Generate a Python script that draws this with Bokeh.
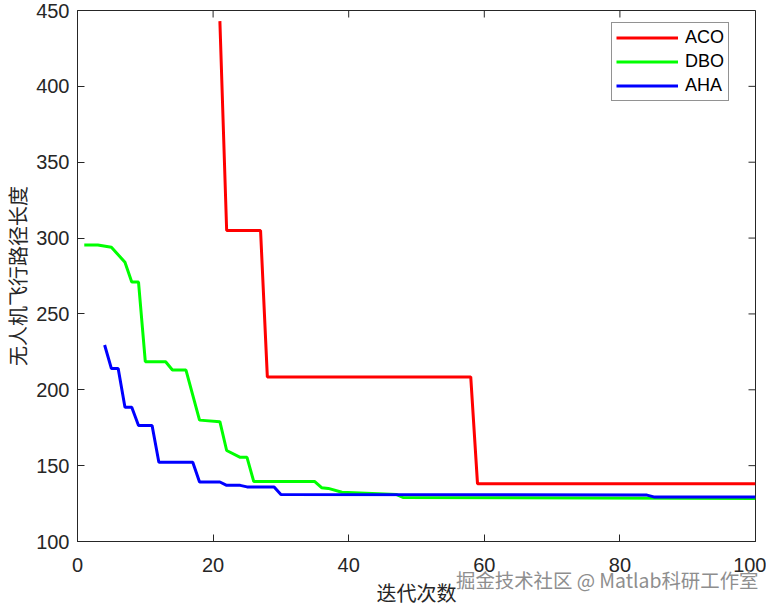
import math
from bokeh.plotting import figure
from bokeh.models import Legend, LegendItem, FixedTicker, Range1d, Div
from bokeh.layouts import column
from bokeh.embed import file_html
from bokeh.resources import INLINE

# ---- data ----
aco_x = [21, 22, 27, 28, 58, 59, 100]
aco_y = [443, 305, 305, 208.5, 208.5, 138, 138]

dbo_x = [1, 3, 5, 7, 8, 9, 10, 13, 14, 16, 18, 21, 22, 24, 25, 26, 35, 36, 37, 39, 47, 48, 100]
dbo_y = [295.5, 295.5, 294, 284, 271, 271, 218.5, 218.5, 213, 213, 180, 179, 160, 155.5, 155.5,
         139.5, 139.5, 135.5, 135, 132.5, 131, 129, 128.3]

aha_x = [4, 5, 6, 7, 8, 9, 11, 12, 17, 18, 21, 22, 24, 25, 29, 30, 84, 85, 100]
aha_y = [229.5, 214, 214, 188.5, 188.5, 176.5, 176.5, 152.3, 152.3, 139.2, 139.2, 137, 137, 136, 136,
         131, 130.6, 129.4, 129.4]

series_names = ["ACO", "DBO", "AHA"]
series_colors = ["#ff0000", "#00ff00", "#0000ff"]
x_lim = (0, 100)
y_lim = (100, 450)
x_ticks = [0, 20, 40, 60, 80, 100]
y_ticks = [100, 150, 200, 250, 300, 350, 400, 450]
x_title = "迭代次数"
y_title = "无人机飞行路径长度"
watermark = "掘金技术社区 @ Matlab科研工作室"

AXC = "#262626"
TICKFONT = "Liberation Sans"
CJK = "Noto Sans CJK SC"
TICKLEN = 7

p = figure(frame_width=678, frame_height=531,
           x_range=Range1d(*x_lim), y_range=Range1d(*y_lim),
           output_backend="svg", toolbar_location=None,
           min_border_left=69, min_border_right=11, min_border_top=10, min_border_bottom=50,
           background_fill_color="white", border_fill_color="white")
p.outline_line_color = AXC
p.outline_line_width = 1
p.xgrid.visible = False
p.ygrid.visible = False

xa = p.xaxis[0]
ya = p.yaxis[0]
for ax, ticks in ((xa, x_ticks), (ya, y_ticks)):
    ax.ticker = FixedTicker(ticks=ticks)
    ax.major_tick_in = TICKLEN
    ax.major_tick_out = 0
    ax.minor_tick_in = 0
    ax.minor_tick_out = 0
    ax.axis_line_color = AXC
    ax.major_tick_line_color = AXC
    ax.major_label_text_font = TICKFONT
    ax.major_label_text_font_size = "20px"
    ax.major_label_text_color = AXC
    ax.axis_label_text_font = CJK
    ax.axis_label_text_font_size = "20px"
    ax.axis_label_text_font_style = "normal"
    ax.axis_label_text_color = AXC
xa.major_label_standoff = 16
ya.major_label_standoff = 8
xa.axis_label = x_title
ya.axis_label = y_title
xa.axis_label_standoff = 3
ya.axis_label_standoff = 1

# mirrored inward ticks on the top and right edges (box on)
p.ray(x=x_ticks, y=y_lim[1], length=TICKLEN, length_units="screen",
      angle=-math.pi / 2, line_color=AXC, line_width=1)
p.ray(x=x_lim[1], y=y_ticks, length=TICKLEN, length_units="screen",
      angle=math.pi, line_color=AXC, line_width=1)

xs = [aco_x, dbo_x, aha_x]
ys = [aco_y, dbo_y, aha_y]
items = []
for name, col, x, y in zip(series_names, series_colors, xs, ys):
    r = p.line(x, y, line_color=col, line_width=3)
    items.append(LegendItem(label=name, renderers=[r]))

legend = Legend(items=items, location=(534, 440))
legend.label_text_font = TICKFONT
legend.label_text_font_size = "18px"
legend.label_text_color = "black"
legend.glyph_width = 62
legend.glyph_height = 19
legend.label_height = 19
legend.label_standoff = 7
legend.spacing = 3
legend.padding = 4
legend.margin = 0
legend.border_line_color = AXC
legend.border_line_width = 1
legend.background_fill_color = "white"
legend.background_fill_alpha = 1
p.add_layout(legend, "center")

# site watermark, overlapping the bottom strip of the chart
wm = Div(text=watermark, width=320, height=22, margin=(-40, 0, 0, 456),
         styles={"font-family": "Noto Sans CJK SC", "font-size": "19.4px", "color": "#8e8e8e",
                 "white-space": "nowrap", "line-height": "22px",
                 "text-shadow": "0 0 2px #ffffff, 0 0 1px #ffffff"})

layout = column(p, wm, spacing=0)
open("out.html", "w").write(file_html(layout, INLINE))
